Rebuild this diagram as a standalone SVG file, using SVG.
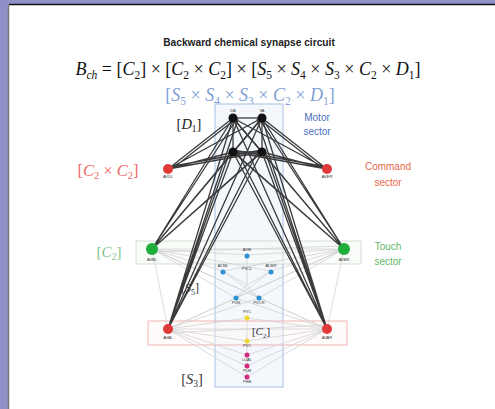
<svg xmlns="http://www.w3.org/2000/svg" width="495" height="409" viewBox="0 0 495 409">
<style>
.serif{font-family:"Liberation Serif","Times New Roman",serif}
.sans{font-family:"Liberation Sans",Arial,sans-serif}
.tiny{font-family:"Liberation Sans",Arial,sans-serif;font-size:4px;fill:#333;text-anchor:middle}
.blk{stroke:#1a1a1a;stroke-width:1.3;fill:none;opacity:0.85}
.gry{stroke:#d2d2d2;stroke-width:0.8;fill:none}
</style>
<rect x="0" y="0" width="495" height="409" fill="#8f8fc9"/>
<rect x="9" y="5" width="486" height="404" fill="#ffffff"/>
<line x1="9" y1="4.5" x2="495" y2="4.5" stroke="#111" stroke-width="1.5"/>
<line x1="8.5" y1="5" x2="8.5" y2="409" stroke="#777" stroke-width="1.5"/>

<g id="title">
<text x="249" y="46" class="sans" font-size="10.2" font-weight="bold" text-anchor="middle" fill="#222">Backward chemical synapse circuit</text>
<text x="248" y="75" class="serif" font-size="18" text-anchor="middle" fill="#111"><tspan font-style="italic">B</tspan><tspan font-style="italic" font-size="11.5" dy="3.5">ch</tspan><tspan dy="-3.5"> = [</tspan><tspan font-style="italic">C</tspan><tspan font-size="11.5" dy="3.5">2</tspan><tspan dy="-3.5">] × [</tspan><tspan font-style="italic">C</tspan><tspan font-size="11.5" dy="3.5">2</tspan><tspan dy="-3.5"> × </tspan><tspan font-style="italic">C</tspan><tspan font-size="11.5" dy="3.5">2</tspan><tspan dy="-3.5">] × [</tspan><tspan font-style="italic">S</tspan><tspan font-size="11.5" dy="3.5">5</tspan><tspan dy="-3.5"> × </tspan><tspan font-style="italic">S</tspan><tspan font-size="11.5" dy="3.5">4</tspan><tspan dy="-3.5"> × </tspan><tspan font-style="italic">S</tspan><tspan font-size="11.5" dy="3.5">3</tspan><tspan dy="-3.5"> × </tspan><tspan font-style="italic">C</tspan><tspan font-size="11.5" dy="3.5">2</tspan><tspan dy="-3.5"> × </tspan><tspan font-style="italic">D</tspan><tspan font-size="11.5" dy="3.5">1</tspan><tspan dy="-3.5">]</tspan></text>
<text x="250" y="101" class="serif" font-size="18" text-anchor="middle" fill="#7f9fd8">[<tspan font-style="italic">S</tspan><tspan font-size="11.5" dy="3.5">5</tspan><tspan dy="-3.5"> × </tspan><tspan font-style="italic">S</tspan><tspan font-size="11.5" dy="3.5">4</tspan><tspan dy="-3.5"> × </tspan><tspan font-style="italic">S</tspan><tspan font-size="11.5" dy="3.5">3</tspan><tspan dy="-3.5"> × </tspan><tspan font-style="italic">C</tspan><tspan font-size="11.5" dy="3.5">2</tspan><tspan dy="-3.5"> × </tspan><tspan font-style="italic">D</tspan><tspan font-size="11.5" dy="3.5">1</tspan><tspan dy="-3.5">]</tspan></text>
</g>

<g id="sector-boxes">
<rect x="215" y="104" width="68" height="283" fill="#f4f8fd" stroke="#a8c0e4" stroke-width="1"/>
<rect x="136" y="241" width="225" height="23" fill="#f6faf6" fill-opacity="0.5" stroke="#c8d6c8" stroke-width="0.8"/>
<rect x="148" y="321" width="199" height="24" fill="#fff6f6" fill-opacity="0.4" stroke="#eda4a4" stroke-width="0.8"/>
</g>

<g id="connectors">
<g class="gry">
<path d="M152 249 L344 249 M152 249 L247 255 M152 249 L223 271 M152 249 L271 271 M152 249 L236 298 M152 249 L259 298 M344 249 L247 255 M344 249 L223 271 M344 249 L271 271 M344 249 L236 298 M344 249 L259 298"/>
<path d="M152 249 L168 329 M344 249 L327 329 M152 249 L327 329 M344 249 L168 329 M152 252 L344 246"/>
<path d="M223 271 L247 285 L271 271 M247 255 L247 285 M236 298 L247 285 L259 298 M223 271 L259 298 M271 271 L236 298"/>
<path d="M168 329 L327 329 M168 329 L247 318 M168 329 L247 341 M327 329 L247 318 M327 329 L247 341 M168 333 L327 325"/>
<path d="M168 329 L247 355 M168 329 L247 366 M168 329 L247 377 M327 329 L247 355 M327 329 L247 366 M327 329 L247 377"/>
<path d="M236 298 L168 329 M259 298 L327 329 M236 298 L327 329 M259 298 L168 329 M247 318 L247 377"/>
</g>
<g class="blk">
<path d="M233 118 L262 118"/>
<path d="M168 169 L233 118 M168 169 L262 118 M168 169 L233 152 M168 169 L262 152 M168 172 L233 121 M168 167 L262 150"/>
<path d="M327 169 L233 118 M327 169 L262 118 M327 169 L233 152 M327 169 L262 152 M327 172 L262 121 M327 167 L233 150"/>
<path d="M152 249 L233 118 M152 249 L262 118 M152 249 L233 152 M152 249 L262 152 M152 249 L236 120 M152 249 L259 154"/>
<path d="M344 249 L233 118 M344 249 L262 118 M344 249 L233 152 M344 249 L262 152 M344 249 L260 120 M344 249 L236 154"/>
<path d="M168 329 L233 118 M168 329 L262 118 M168 329 L233 152 M168 329 L262 152 M168 329 L238 119 M168 329 L257 153 M168 329 L229 154"/>
<path d="M327 329 L233 118 M327 329 L262 118 M327 329 L233 152 M327 329 L262 152 M327 329 L257 119 M327 329 L238 153 M327 329 L266 154"/>
<path d="M233 118 L262 152 M262 118 L233 152 M233 118 L233 152 M262 118 L262 152 M233 152 L262 152"/>
</g>
</g>

<g id="motor-sector">
<circle cx="233" cy="118" r="4.5" fill="#111"/>
<circle cx="262" cy="118" r="4.5" fill="#111"/>
<circle cx="233" cy="152" r="4.5" fill="#111"/>
<circle cx="262" cy="152" r="4.5" fill="#111"/>
<text x="233" y="112" class="tiny">DA</text>
<text x="262" y="112" class="tiny">VA</text>
<text x="189" y="129" class="serif" font-size="14.5" text-anchor="middle" fill="#222">[<tspan font-style="italic">D</tspan><tspan font-size="9.5" dy="3">1</tspan><tspan dy="-3">]</tspan></text>
<text x="317" y="121" class="sans" font-size="10" text-anchor="middle" fill="#4a6fc0">Motor</text>
<text x="317" y="135" class="sans" font-size="10" text-anchor="middle" fill="#4a6fc0">sector</text>
</g>

<g id="AVDL"><circle cx="168" cy="169" r="5" fill="#e03a3a"/><text x="168" y="178" class="tiny">AVDL</text></g>
<g id="AVER"><circle cx="327" cy="169" r="5" fill="#e03a3a"/><text x="327" y="178" class="tiny">AVER</text></g>
<g id="command-label">
<text x="108" y="176" class="serif" font-size="16.5" text-anchor="middle" fill="#ee6b6b">[<tspan font-style="italic">C</tspan><tspan font-size="10.5" dy="3">2</tspan><tspan dy="-3"> × </tspan><tspan font-style="italic">C</tspan><tspan font-size="10.5" dy="3">2</tspan><tspan dy="-3">]</tspan></text>
<text x="388" y="170" class="sans" font-size="10" text-anchor="middle" fill="#e8664c">Command</text>
<text x="388" y="186" class="sans" font-size="10" text-anchor="middle" fill="#e8664c">sector</text>
</g>

<g id="AVBL"><circle cx="152" cy="249" r="6" fill="#1fae3a"/><text x="152" y="261" class="tiny">AVBL</text></g>
<g id="AVBR"><circle cx="344" cy="249" r="6" fill="#1fae3a"/><text x="344" y="261" class="tiny">AVBR</text></g>
<g id="touch-label">
<text x="109" y="257" class="serif" font-size="15" text-anchor="middle" fill="#7ec48a">[<tspan font-style="italic">C</tspan><tspan font-size="9.5" dy="3">2</tspan><tspan dy="-3">]</tspan></text>
<text x="388" y="250" class="sans" font-size="10" text-anchor="middle" fill="#5fb86a">Touch</text>
<text x="388" y="265" class="sans" font-size="10" text-anchor="middle" fill="#5fb86a">sector</text>
</g>

<g id="sensory-S5">
<circle cx="247" cy="256" r="2.5" fill="#2b8fd4"/><text x="247" y="251" class="tiny">AVM</text>
<circle cx="223" cy="272" r="2.5" fill="#2b8fd4"/><text x="223" y="267" class="tiny">ALML</text>
<circle cx="271" cy="272" r="2.5" fill="#2b8fd4"/><text x="271" y="267" class="tiny">ALMR</text>
<text x="247" y="270" class="tiny">PVCL</text>
<circle cx="236" cy="298" r="2.5" fill="#2b8fd4"/><text x="236" y="304" class="tiny">PVM</text>
<circle cx="259" cy="298" r="2.5" fill="#2b8fd4"/><text x="259" y="304" class="tiny">PVCR</text>
<text x="190" y="292" class="serif" font-size="12" text-anchor="middle" fill="#333">[<tspan font-style="italic">S</tspan><tspan font-size="8" dy="2.5">5</tspan><tspan dy="-2.5">]</tspan></text>
</g>

<g id="AVAL"><circle cx="168" cy="329" r="5" fill="#e03a3a"/><text x="168" y="339" class="tiny">AVAL</text></g>
<g id="AVAR"><circle cx="327" cy="329" r="5" fill="#e03a3a"/><text x="327" y="339" class="tiny">AVAR</text></g>

<g id="inter-C2">
<circle cx="247" cy="318" r="2.5" fill="#f0d830"/><text x="247" y="313" class="tiny">PVC</text>
<circle cx="247" cy="341" r="2.5" fill="#f0d830"/><text x="247" y="347" class="tiny">PVC</text>
<text x="261" y="335" class="serif" font-size="11" text-anchor="middle" fill="#333">[<tspan font-style="italic">C</tspan><tspan font-size="7" dy="2.5">2</tspan><tspan dy="-2.5">]</tspan></text>
</g>

<g id="sensory-S3">
<circle cx="247" cy="355" r="2.5" fill="#d0287a"/><text x="247" y="361" class="tiny">LUAL</text>
<circle cx="247" cy="366" r="2.5" fill="#d0287a"/><text x="247" y="372" class="tiny">PLM</text>
<circle cx="247" cy="377" r="2.5" fill="#d0287a"/><text x="247" y="383" class="tiny">PHB</text>
<text x="192" y="384" class="serif" font-size="14.5" text-anchor="middle" fill="#333">[<tspan font-style="italic">S</tspan><tspan font-size="9.5" dy="3">3</tspan><tspan dy="-3">]</tspan></text>
</g>
</svg>
